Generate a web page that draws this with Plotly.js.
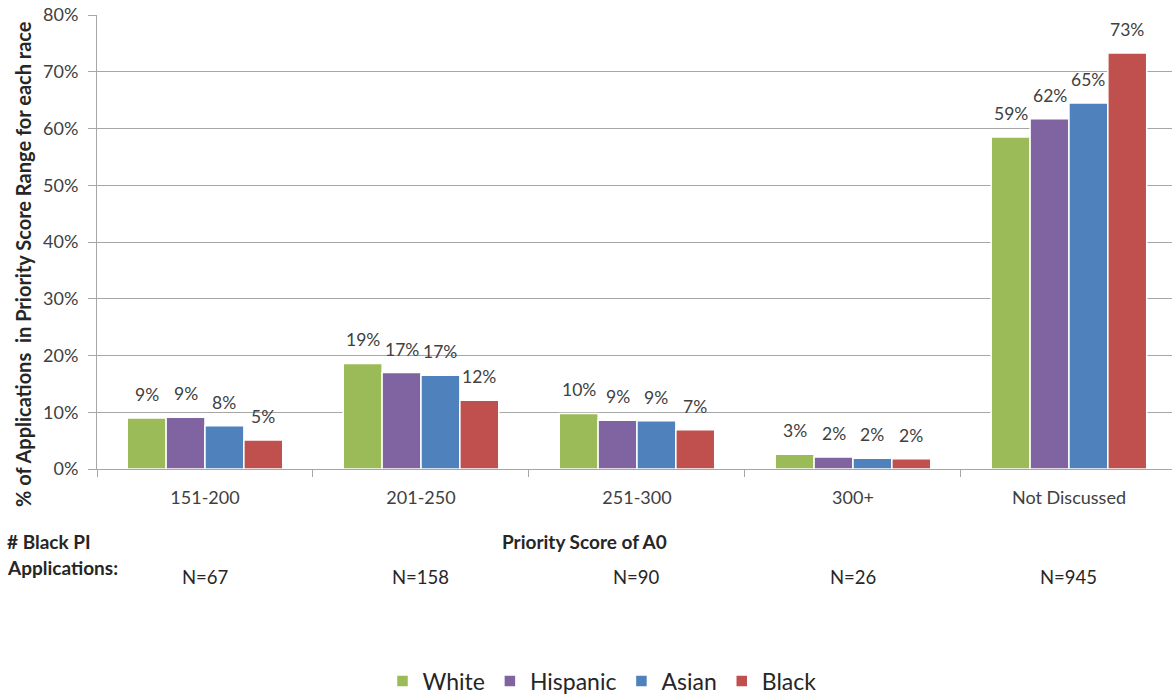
<!DOCTYPE html>
<html>
<head>
<meta charset="utf-8">
<script src="https://cdn.plot.ly/plotly-3.0.1.min.js"></script>
<style>html,body{margin:0;padding:0;background:#fff;}#chart{width:1172px;height:694px;}</style>
</head>
<body>
<div id="chart"></div>
<script>
const categories = ["151-200", "201-250", "251-300", "300+", "Not Discussed"];
const white    = [9.0, 18.6, 9.8, 2.6, 58.5];
const hispanic = [9.1, 17.0, 8.6, 2.1, 61.7];
const asian    = [7.6, 16.5, 8.5, 1.9, 64.5];
const black    = [5.1, 12.1, 6.9, 1.8, 73.3];
const nLabels  = ["N=67", "N=158", "N=90", "N=26", "N=945"];

const font = "Lato, 'Liberation Sans', sans-serif";
const txtColor = "#404040";
const darkText = "#262626";

const W = 1172, H = 694;
const M = {l: 97, r: 0, t: 15, b: 225};
const plotW = W - M.l - M.r, plotH = H - M.t - M.b;
const xRange = [-0.5, 4.477];
const bargap = 0.28;
const catPx = plotW / (xRange[1] - xRange[0]);
const barPx = catPx * (1 - bargap) / 4;
const py = yPix => (H - M.b - yPix) / plotH;   // pixel row -> paper y
const px = xPix => (xPix - M.l) / plotW;      // pixel col -> paper x

const seriesDefs = [
  {name: "White", vals: white, color: "#9BBB59"},
  {name: "Hispanic", vals: hispanic, color: "#8064A2"},
  {name: "Asian", vals: asian, color: "#4F81BD"},
  {name: "Black", vals: black, color: "#C0504D"}
];

const data = seriesDefs.map(s => ({
  type: "bar", name: s.name, x: categories, y: s.vals,
  marker: {color: s.color, line: {color: "#ffffff", width: 1.5}},
  hoverinfo: "skip"
}));

const annotations = [];
// value labels above bars
seriesDefs.forEach((s, si) => {
  s.vals.forEach((v, ci) => {
    annotations.push({
      text: Math.round(v) + "%", x: categories[ci], xref: "x", y: v, yref: "y",
      xanchor: "center", yanchor: "bottom", xshift: (si - 1.5) * barPx, yshift: 11,
      showarrow: false, font: {family: font, size: 17.5, color: txtColor}
    });
  });
});
// N labels under categories
nLabels.forEach((t, i) => {
  annotations.push({
    text: t, x: categories[i], xref: "x", y: py(577), yref: "paper", yanchor: "middle",
    showarrow: false, font: {family: font, size: 18.5, color: darkText}
  });
});
annotations.push({
  text: "<b>Priority Score of A0</b>", xref: "paper", x: px(584), yref: "paper",
  y: py(541), yanchor: "middle", showarrow: false,
  font: {family: font, size: 19, color: darkText}
});
annotations.push({
  text: "<b># Black PI</b>", xref: "paper", x: px(5), xanchor: "left", yref: "paper",
  y: py(541), yanchor: "middle", showarrow: false,
  font: {family: font, size: 19, color: darkText}
});
annotations.push({
  text: "<b>Applications:</b>", xref: "paper", x: px(5), xanchor: "left", yref: "paper",
  y: py(567), yanchor: "middle", showarrow: false,
  font: {family: font, size: 19, color: darkText}
});
annotations.push({
  text: "<b>% of Applications  in Priority Score Range for each race</b>", textangle: -90,
  xref: "paper", x: px(23), xanchor: "center", yref: "paper", y: py(264), yanchor: "middle",
  showarrow: false, font: {family: font, size: 20, color: darkText}
});

const layout = {
  width: W, height: H,
  margin: {l: M.l, r: M.r, t: M.t, b: M.b, autoexpand: false},
  paper_bgcolor: "#ffffff", plot_bgcolor: "#ffffff",
  barmode: "group", bargap: bargap, bargroupgap: 0.0,
  font: {family: font, color: txtColor},
  xaxis: {
    type: "category", range: xRange,
    showline: true, linecolor: "#a6a6a6", linewidth: 1,
    ticks: "outside", tickson: "boundaries", ticklen: 7, tickcolor: "#a6a6a6",
    ticklabelstandoff: 12,
    tickfont: {family: font, size: 18, color: txtColor},
    showgrid: false, fixedrange: true
  },
  yaxis: {
    range: [0, 80], dtick: 10, ticksuffix: "%",
    showgrid: true, gridcolor: "#a6a6a6", gridwidth: 1,
    showline: true, linecolor: "#a6a6a6", linewidth: 1,
    ticks: "outside", ticklen: 8, tickcolor: "#a6a6a6",
    ticklabelstandoff: 6,
    tickfont: {family: font, size: 18, color: txtColor},
    zeroline: true, zerolinecolor: "#a6a6a6",
    fixedrange: true
  },
  legend: {
    orientation: "h", x: px(602), xanchor: "center", xref: "paper",
    y: py(681), yanchor: "middle",
    font: {family: font, size: 23, color: darkText},
    traceorder: "normal"
  },
  showlegend: true,
  annotations: annotations
};

Plotly.newPlot("chart", data, layout, {displayModeBar: false, staticPlot: true});
</script>
</body>
</html>
